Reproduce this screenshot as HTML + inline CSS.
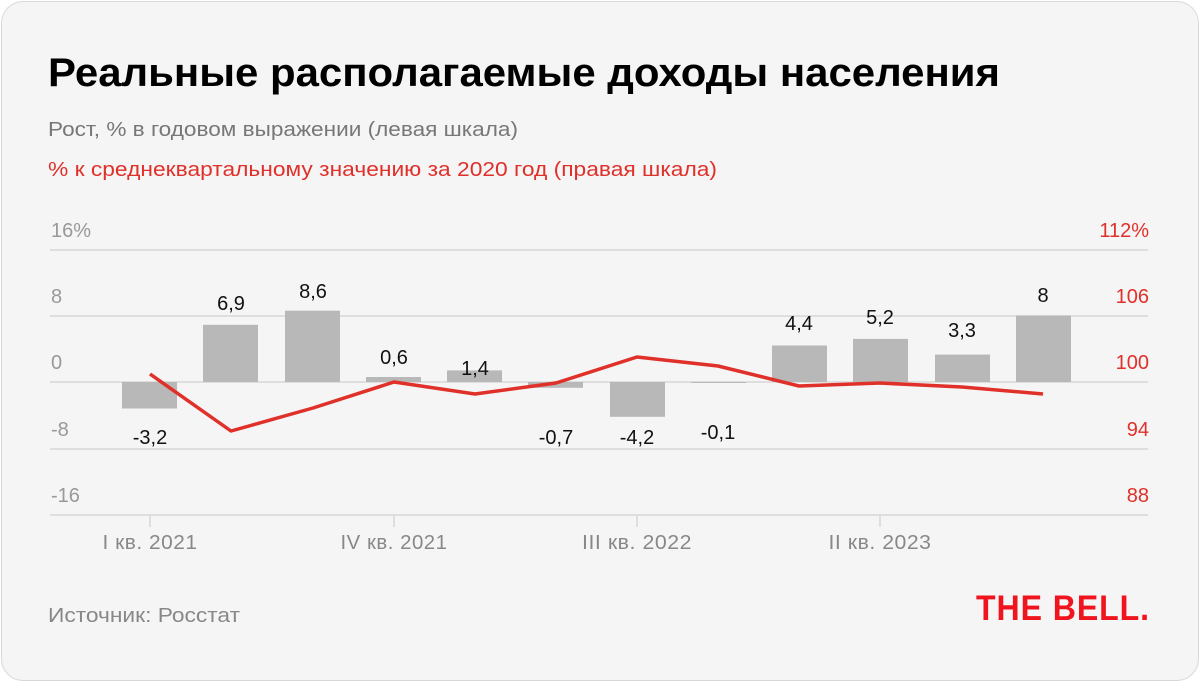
<!DOCTYPE html>
<html><head><meta charset="utf-8"><style>
html,body{margin:0;padding:0;background:#fff;}
body{width:1200px;height:682px;position:relative;overflow:hidden;font-family:"Liberation Sans",sans-serif;}
.card{position:absolute;left:1px;top:1px;width:1196px;height:678px;background:#f5f5f5;border:1px solid #d8d8d8;border-radius:22px;}
</style></head><body>
<div class="card"></div>
<svg width="1200" height="682" style="position:absolute;left:0;top:0" font-family="Liberation Sans, sans-serif">
<text x="48" y="86" font-size="40" font-weight="bold" fill="#000" textLength="952" lengthAdjust="spacingAndGlyphs">Реальные располагаемые доходы населения</text>
<text x="48" y="136" font-size="20" fill="#777" textLength="470" lengthAdjust="spacingAndGlyphs">Рост, % в годовом выражении (левая шкала)</text>
<text x="48" y="176" font-size="20" fill="#e0302a" textLength="669" lengthAdjust="spacingAndGlyphs">% к среднеквартальному значению за 2020 год (правая шкала)</text>
<g stroke="#dedede" stroke-width="2">
<line x1="50" x2="1148" y1="250" y2="250"/><line x1="50" x2="1148" y1="316" y2="316"/><line x1="50" x2="1148" y1="382" y2="382"/><line x1="50" x2="1148" y1="449" y2="449"/><line x1="50" x2="1148" y1="515" y2="515"/>
<line x1="150" x2="150" y1="515" y2="527"/><line x1="394" x2="394" y1="515" y2="527"/><line x1="637" x2="637" y1="515" y2="527"/><line x1="880" x2="880" y1="515" y2="527"/>
</g>
<g font-size="20" fill="#999">
<text x="51" y="237">16%</text><text x="51" y="303">8</text><text x="51" y="369">0</text><text x="51" y="436">-8</text><text x="51" y="502">-16</text>
</g>
<g font-size="20" fill="#e0302a" text-anchor="end">
<text x="1149" y="237">112%</text><text x="1149" y="303">106</text><text x="1149" y="369">100</text><text x="1149" y="436">94</text><text x="1149" y="502">88</text>
</g>
<g font-size="20" fill="#888" text-anchor="middle" letter-spacing="0.5">
<text x="150" y="549" textLength="95" lengthAdjust="spacingAndGlyphs">I кв. 2021</text><text x="394" y="549" textLength="107" lengthAdjust="spacingAndGlyphs">IV кв. 2021</text><text x="637" y="549" textLength="110" lengthAdjust="spacingAndGlyphs">III кв. 2022</text><text x="880" y="549" textLength="103" lengthAdjust="spacingAndGlyphs">II кв. 2023</text>
</g>
<g fill="#b8b8b8">
<rect x="122" y="382" width="55" height="26.5"/>
<rect x="203" y="324.8" width="55" height="57.2"/>
<rect x="285" y="310.7" width="55" height="71.3"/>
<rect x="366" y="377" width="55" height="5"/>
<rect x="447" y="370.4" width="55" height="11.6"/>
<rect x="528" y="382" width="55" height="5.8"/>
<rect x="610" y="382" width="55" height="34.8"/>
<rect x="691" y="382" width="55" height="1"/>
<rect x="772" y="345.5" width="55" height="36.5"/>
<rect x="853" y="338.9" width="55" height="43.1"/>
<rect x="935" y="354.6" width="55" height="27.4"/>
<rect x="1016" y="315.7" width="55" height="66.3"/>
</g>
<polyline fill="none" stroke="#e0302a" stroke-width="3.5" stroke-linejoin="round" points="150,374 231,431 313,408 394,382 475,394 556,383 637,357 718,366 799,386 880,383 962,387 1043,394"/>
<g font-size="20" fill="#111" text-anchor="middle">
<text x="150" y="444">-3,2</text><text x="231" y="310">6,9</text><text x="313" y="298">8,6</text><text x="394" y="364">0,6</text><text x="475" y="375">1,4</text><text x="556" y="444">-0,7</text><text x="637" y="444">-4,2</text><text x="718" y="439">-0,1</text><text x="799" y="330">4,4</text><text x="880" y="324">5,2</text><text x="962" y="337">3,3</text><text x="1043" y="302">8</text>
</g>
<text x="48" y="622" font-size="20" fill="#888" textLength="192" lengthAdjust="spacingAndGlyphs">Источник: Росстат</text>
<text x="976" y="620" font-size="35" font-weight="bold" fill="#f0141e" letter-spacing="1" textLength="174" lengthAdjust="spacingAndGlyphs">THE BELL.</text>
</svg>
</body></html>
